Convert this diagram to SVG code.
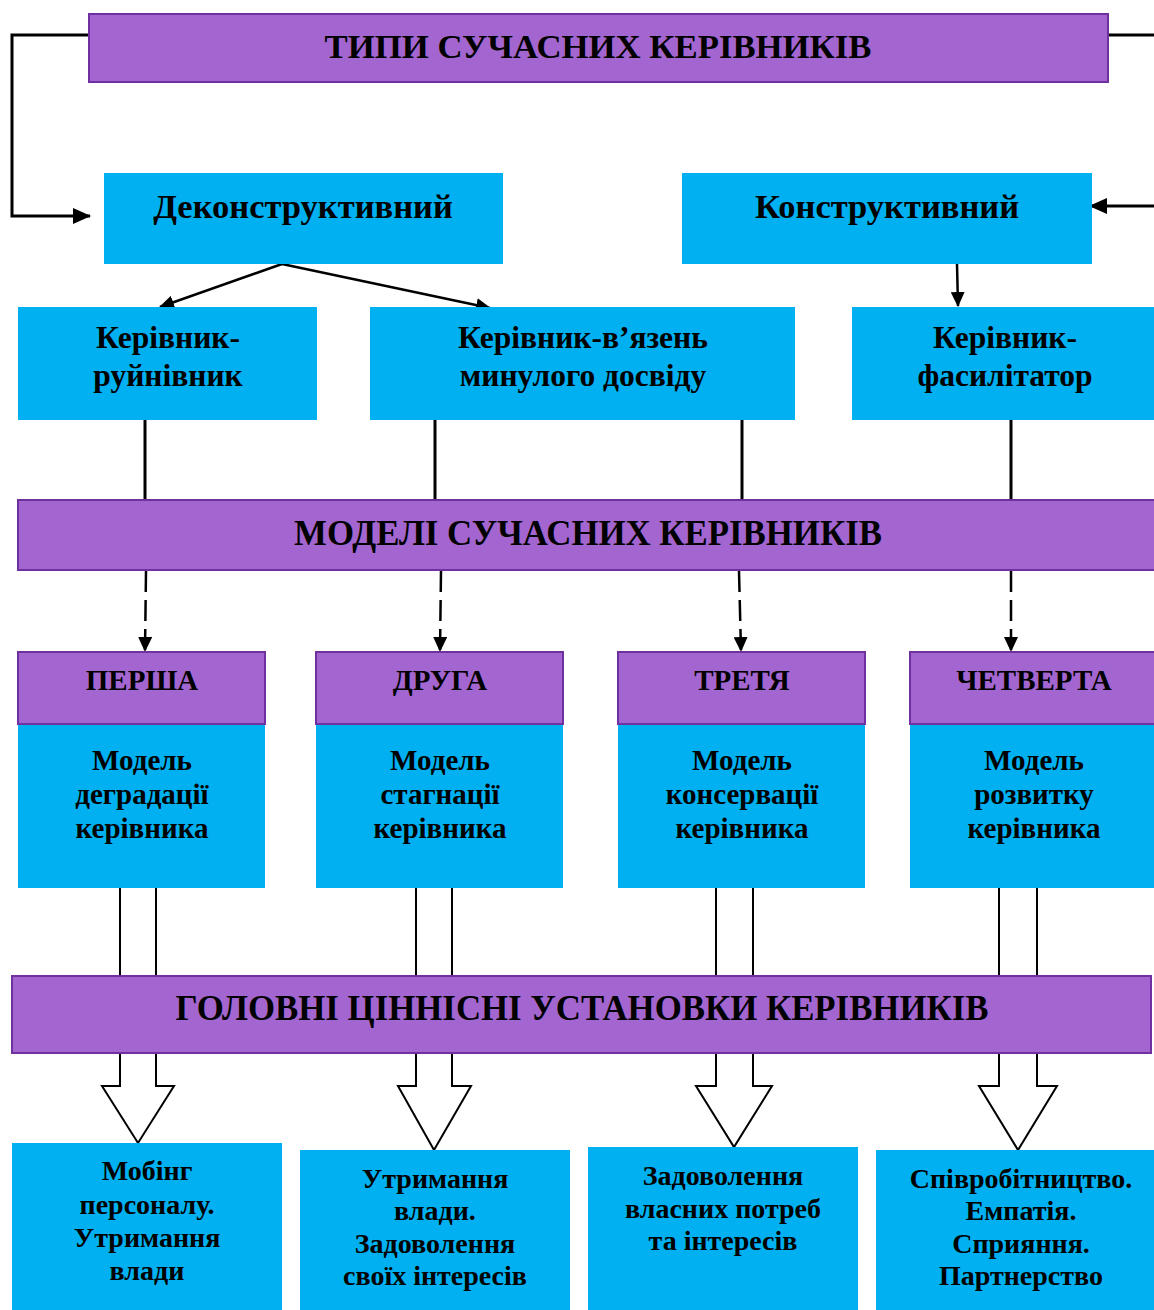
<svg xmlns="http://www.w3.org/2000/svg" width="1154" height="1310" viewBox="0 0 1154 1310">
<style>
.p{fill:#a366d1;stroke:#7030a0;stroke-width:2}
.b{fill:#00b0f0}
.t{font-family:"Liberation Serif","Times New Roman",serif;font-weight:bold;fill:#000;text-anchor:middle}
.h{font-size:29px}
.s{font-size:28px}
.ln{stroke:#000;fill:none}
.ha{fill:#fff;stroke:#000;stroke-width:2;stroke-linejoin:miter}
</style>
<defs>
<marker id="ah" markerUnits="userSpaceOnUse" markerWidth="18" markerHeight="16" viewBox="0 0 18 16" refX="17" refY="8" orient="auto">
<path d="M0,0 L18,8 L0,16 Z" fill="#000"/>
</marker>
<marker id="as" markerUnits="userSpaceOnUse" markerWidth="15" markerHeight="14" viewBox="0 0 15 14" refX="14" refY="7" orient="auto">
<path d="M0,0 L15,7 L0,14 Z" fill="#000"/>
</marker>
</defs>

<g id="connectors">
<polyline class="ln" stroke-width="3" points="89,35 12,35 12,216 90,216" marker-end="url(#ah)"/>
<line class="ln" stroke-width="3" x1="1108" y1="35" x2="1154" y2="35"/>
<line class="ln" stroke-width="3" x1="1154" y1="206" x2="1090" y2="206" marker-end="url(#ah)"/>
<line class="ln" stroke-width="2.5" x1="282" y1="264" x2="160" y2="307" marker-end="url(#as)"/>
<line class="ln" stroke-width="2.5" x1="282" y1="264" x2="490" y2="308" marker-end="url(#as)"/>
<line class="ln" stroke-width="2.5" x1="957" y1="264" x2="958" y2="306" marker-end="url(#as)"/>
<line class="ln" stroke-width="3" x1="145" y1="420" x2="145" y2="500"/>
<line class="ln" stroke-width="3" x1="435" y1="420" x2="435" y2="500"/>
<line class="ln" stroke-width="3" x1="742" y1="420" x2="742" y2="500"/>
<line class="ln" stroke-width="3" x1="1011" y1="420" x2="1011" y2="500"/>
<g stroke-dasharray="21,8">
<line class="ln" stroke-width="2.5" x1="146" y1="571" x2="145" y2="651" marker-end="url(#as)"/>
<line class="ln" stroke-width="2.5" x1="441" y1="571" x2="440" y2="651" marker-end="url(#as)"/>
<line class="ln" stroke-width="2.5" x1="739" y1="571" x2="741" y2="651" marker-end="url(#as)"/>
<line class="ln" stroke-width="2.5" x1="1011" y1="571" x2="1011" y2="651" marker-end="url(#as)"/>
</g>
<g class="ln" stroke-width="2">
<line x1="120" y1="888" x2="120" y2="976"/><line x1="156" y1="888" x2="156" y2="976"/>
<line x1="416" y1="888" x2="416" y2="976"/><line x1="452" y1="888" x2="452" y2="976"/>
<line x1="716" y1="888" x2="716" y2="976"/><line x1="753" y1="888" x2="753" y2="976"/>
<line x1="999" y1="888" x2="999" y2="976"/><line x1="1037" y1="888" x2="1037" y2="976"/>
</g>
<path class="ha" d="M120,1054 V1086 H102 L138,1143 L174,1086 H156 V1054"/>
<path class="ha" d="M416,1054 V1086 H398 L434,1150 L471,1086 H452 V1054"/>
<path class="ha" d="M716,1054 V1086 H696 L734,1147 L772,1086 H753 V1054"/>
<path class="ha" d="M999,1054 V1086 H979 L1018,1150 L1057,1086 H1037 V1054"/>
</g>

<g id="title">
<rect class="p" x="89" y="14" width="1019" height="68"/>
<text class="t" x="598" y="58" font-size="34" textLength="547" lengthAdjust="spacingAndGlyphs">ТИПИ СУЧАСНИХ КЕРІВНИКІВ</text>
</g>
<g id="dekon">
<rect class="b" x="104" y="173" width="399" height="91"/>
<text class="t" x="303" y="218" font-size="34.5">Деконструктивний</text>
</g>
<g id="kon">
<rect class="b" x="682" y="173" width="410" height="91"/>
<text class="t" x="887" y="218" font-size="34.5">Конструктивний</text>
</g>
<g id="ruin">
<rect class="b" x="18" y="307" width="299" height="113"/>
<text class="t" x="168" y="348" font-size="31.5">Керівник-</text>
<text class="t" x="168" y="386" font-size="31.5">руйнівник</text>
</g>
<g id="vyazen">
<rect class="b" x="370" y="307" width="425" height="113"/>
<text class="t" x="583" y="348" font-size="31.5">Керівник-в’язень</text>
<text class="t" x="583" y="386" font-size="31.5">минулого досвіду</text>
</g>
<g id="fasyl">
<rect class="b" x="852" y="307" width="302" height="113"/>
<text class="t" x="1005" y="348" font-size="31.5">Керівник-</text>
<text class="t" x="1005" y="386" font-size="31.5">фасилітатор</text>
</g>
<g id="models">
<rect class="p" x="18" y="500" width="1140" height="70"/>
<text class="t" x="588" y="545" font-size="34.8">МОДЕЛІ СУЧАСНИХ КЕРІВНИКІВ</text>
</g>
<g id="persha">
<rect class="p" x="18" y="652" width="247" height="72"/>
<text class="t h" x="142" y="690">ПЕРША</text>
<rect class="b" x="18" y="725" width="247" height="163"/>
<text class="t h" x="142" y="770">Модель</text>
<text class="t h" x="142" y="804">деградації</text>
<text class="t h" x="142" y="838">керівника</text>
</g>
<g id="druha">
<rect class="p" x="316" y="652" width="247" height="72"/>
<text class="t h" x="440" y="690">ДРУГА</text>
<rect class="b" x="316" y="725" width="247" height="163"/>
<text class="t h" x="440" y="770">Модель</text>
<text class="t h" x="440" y="804">стагнації</text>
<text class="t h" x="440" y="838">керівника</text>
</g>
<g id="tretia">
<rect class="p" x="618" y="652" width="247" height="72"/>
<text class="t h" x="742" y="690">ТРЕТЯ</text>
<rect class="b" x="618" y="725" width="247" height="163"/>
<text class="t h" x="742" y="770">Модель</text>
<text class="t h" x="742" y="804">консервації</text>
<text class="t h" x="742" y="838">керівника</text>
</g>
<g id="chetverta">
<rect class="p" x="910" y="652" width="248" height="72"/>
<text class="t h" x="1034" y="690">ЧЕТВЕРТА</text>
<rect class="b" x="910" y="725" width="244" height="163"/>
<text class="t h" x="1034" y="770">Модель</text>
<text class="t h" x="1034" y="804">розвитку</text>
<text class="t h" x="1034" y="838">керівника</text>
</g>
<g id="values">
<rect class="p" x="12" y="976" width="1139" height="77"/>
<text class="t" x="582" y="1020" font-size="34.8">ГОЛОВНІ ЦІННІСНІ УСТАНОВКИ КЕРІВНИКІВ</text>
</g>
<g id="v1">
<rect class="b" x="12" y="1143" width="270" height="167"/>
<text class="t s" x="147" y="1180">Мобінг</text>
<text class="t s" x="147" y="1214">персоналу.</text>
<text class="t s" x="147" y="1247">Утримання</text>
<text class="t s" x="147" y="1280">влади</text>
</g>
<g id="v2">
<rect class="b" x="300" y="1150" width="270" height="160"/>
<text class="t s" x="435" y="1188">Утримання</text>
<text class="t s" x="435" y="1220">влади.</text>
<text class="t s" x="435" y="1253">Задоволення</text>
<text class="t s" x="435" y="1285">своїх інтересів</text>
</g>
<g id="v3">
<rect class="b" x="588" y="1147" width="270" height="163"/>
<text class="t s" x="723" y="1185">Задоволення</text>
<text class="t s" x="723" y="1218">власних потреб</text>
<text class="t s" x="723" y="1250">та інтересів</text>
</g>
<g id="v4">
<rect class="b" x="876" y="1150" width="278" height="160"/>
<text class="t s" x="1021" y="1188">Співробітництво.</text>
<text class="t s" x="1021" y="1220">Емпатія.</text>
<text class="t s" x="1021" y="1253">Сприяння.</text>
<text class="t s" x="1021" y="1285">Партнерство</text>
</g>
</svg>
